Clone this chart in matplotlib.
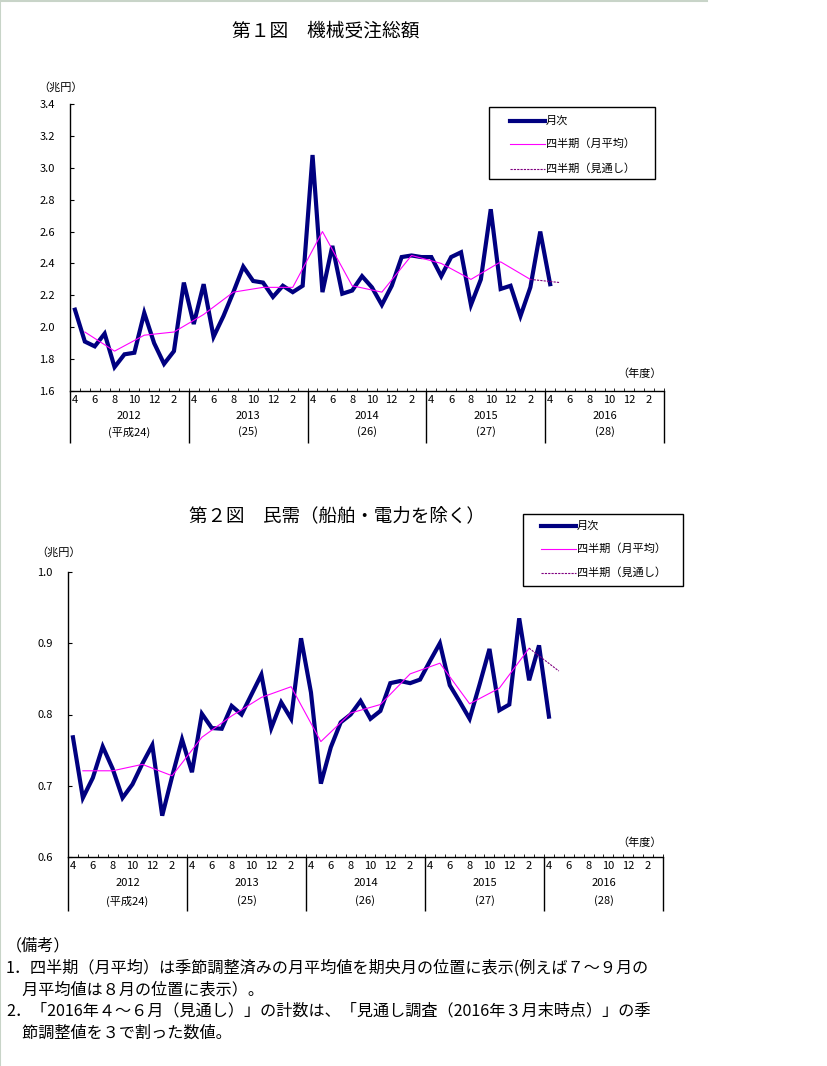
import numpy as np
import matplotlib
matplotlib.use('Agg')
import matplotlib.pyplot as plt
from matplotlib.lines import Line2D
from matplotlib.patches import Rectangle
from matplotlib import transforms

plt.rcParams['font.family'] = ['Noto Sans CJK JP', 'DejaVu Sans']

# ---- data (兆円), monthly from 2012/4 ----
years = ['2012', '2013', '2014', '2015', '2016']
era_labels = ['(平成24)', '(25)', '(26)', '(27)', '(28)']
month_labels = ['4', '6', '8', '10', '12', '2']

total_monthly = [2.11, 1.91, 1.88, 1.96, 1.75, 1.83, 1.84, 2.09, 1.90, 1.77, 1.85, 2.28,
                 2.02, 2.27, 1.94, 2.07, 2.22, 2.38, 2.29, 2.28, 2.19, 2.26, 2.22, 2.26,
                 3.08, 2.22, 2.51, 2.21, 2.23, 2.32, 2.25, 2.14, 2.26, 2.44, 2.45, 2.44,
                 2.44, 2.32, 2.44, 2.47, 2.14, 2.30, 2.74, 2.24, 2.26, 2.07, 2.25, 2.60,
                 2.27]
total_quarterly = [1.97, 1.85, 1.95, 1.97, 2.08, 2.22, 2.25, 2.25,
                   2.60, 2.26, 2.22, 2.45, 2.40, 2.30, 2.41, 2.30]
total_forecast = [2.30, 2.28]

private_monthly = [0.768, 0.683, 0.711, 0.755, 0.724, 0.683, 0.702, 0.731, 0.757, 0.658, 0.713, 0.765,
                   0.719, 0.801, 0.781, 0.780, 0.812, 0.800, 0.828, 0.856, 0.781, 0.817, 0.794, 0.907,
                   0.831, 0.703, 0.754, 0.789, 0.800, 0.819, 0.794, 0.805, 0.844, 0.847, 0.844, 0.849,
                   0.875, 0.900, 0.841, 0.818, 0.794, 0.842, 0.892, 0.806, 0.814, 0.935, 0.848, 0.897,
                   0.797]
private_quarterly = [0.721, 0.721, 0.730, 0.714, 0.768, 0.798, 0.824, 0.839,
                     0.762, 0.802, 0.814, 0.857, 0.872, 0.815, 0.837, 0.893]
private_forecast = [0.893, 0.861]

W, H = 828, 1066
NAVY = '#000080'
PINK = '#ff00ff'
PURPLE = '#800080'
SMALL = 8


def fx(x):
    return x / W


def fy(y):
    return 1 - y / H


def draw_panel(fig, box, monthly, quarterly, forecast, yticks, ylim,
               year_y, era_y, line_end, unit_pos, nendo_pos):
    left, top, right, bottom = box
    ax = fig.add_axes([fx(left), fy(bottom), fx(right) - fx(left), fy(top) - fy(bottom)])

    xm = np.arange(len(monthly)) + 0.5
    xq = np.arange(len(quarterly)) * 3 + 1.5
    xf = np.array([xq[-1], xq[-1] + 3])
    ax.plot(xm, monthly, color=NAVY, lw=3.0, solid_joinstyle='miter', zorder=3)
    ax.plot(xq, quarterly, color=PINK, lw=0.8, zorder=4)
    ax.plot(xf, forecast, color=PURPLE, lw=0.8, ls=(0, (2, 1)), zorder=4)

    ax.set_xlim(0, 60)
    ax.set_ylim(*ylim)
    for s in ['top', 'right']:
        ax.spines[s].set_visible(False)
    ax.spines['left'].set_linewidth(1)
    ax.spines['bottom'].set_linewidth(1)

    ax.set_yticks(yticks)
    ax.set_yticklabels([f'{v:.1f}' for v in yticks])
    ax.tick_params(axis='y', direction='in', length=3, pad=11, labelsize=SMALL)

    major = [12 * k + m + 0.5 for k in range(5) for m in range(0, 12, 2)]
    ax.set_xticks(major)
    ax.set_xticklabels(month_labels * 5)
    ax.set_xticks(np.arange(0, 61), minor=True)
    ax.tick_params(axis='x', which='major', length=0, pad=3, labelsize=SMALL)
    ax.tick_params(axis='x', which='minor', direction='in', length=2.5)

    trans = transforms.blended_transform_factory(ax.transData, fig.transFigure)
    ax.vlines(np.arange(0, 61, 12), fy(bottom), fy(line_end), transform=trans,
              color='black', lw=1, clip_on=False)
    for k in range(5):
        ax.text(12 * k + 6, fy(year_y), years[k], transform=trans,
                ha='center', va='center', fontsize=SMALL)
        ax.text(12 * k + 6, fy(era_y), era_labels[k], transform=trans,
                ha='center', va='center', fontsize=SMALL)

    fig.text(fx(unit_pos[0]), fy(unit_pos[1]), '（兆円）', ha='left', va='center', fontsize=SMALL)
    fig.text(fx(nendo_pos[0]), fy(nendo_pos[1]), '（年度）', ha='right', va='center', fontsize=SMALL)
    return ax


def draw_legend(fig, box, x_line, ys):
    x0, y0, x1, y1 = box
    fig.add_artist(Rectangle((fx(x0), fy(y1)), fx(x1) - fx(x0), fy(y0) - fy(y1),
                             transform=fig.transFigure, fill=False, edgecolor='black', lw=1))
    entries = [('月次', dict(color=NAVY, lw=3.0)),
               ('四半期（月平均）', dict(color=PINK, lw=0.8)),
               ('四半期（見通し）', dict(color=PURPLE, lw=0.8, ls=(0, (2, 1))))]
    for (label, kw), y in zip(entries, ys):
        fig.add_artist(Line2D([fx(x_line[0]), fx(x_line[1])], [fy(y), fy(y)],
                              transform=fig.transFigure, **kw))
        fig.text(fx(x_line[1] + 1), fy(y), label, ha='left', va='center', fontsize=SMALL)


fig = plt.figure(figsize=(W / 100, H / 100), dpi=100)

# page border
fig.add_artist(Line2D([0, fx(707)], [fy(0.5), fy(0.5)], transform=fig.transFigure,
                      color='#c8d4c8', lw=1.5))
fig.add_artist(Line2D([fx(0.5), fx(0.5)], [0, 1], transform=fig.transFigure,
                      color='#c8d4c8', lw=1.5))

fig.text(fx(326), fy(31), '第１図　機械受注総額', ha='center', va='center', fontsize=13.5)
draw_panel(fig, (70, 104, 664, 391), total_monthly, total_quarterly, total_forecast,
           np.arange(1.6, 3.41, 0.2), (1.6, 3.4),
           416, 432, 443, (38, 87), (662, 374))
draw_legend(fig, (489, 107, 655, 179), (510, 545), (121, 144, 169))

fig.text(fx(337), fy(516), '第２図　民需（船舶・電力を除く）', ha='center', va='center', fontsize=13.3)
draw_panel(fig, (68, 572, 663, 857), private_monthly, private_quarterly, private_forecast,
           np.arange(0.6, 1.01, 0.1), (0.6, 1.0),
           883, 901, 911, (36, 552), (662, 843))
draw_legend(fig, (523, 514, 683, 586), (541, 576), (526, 549, 573))

notes = ['（備考）',
         '1．四半期（月平均）は季節調整済みの月平均値を期央月の位置に表示(例えば７～９月の',
         '　月平均値は８月の位置に表示）。',
         '2．「2016年４～６月（見通し）」の計数は、「見通し調査（2016年３月末時点）」の季',
         '　節調整値を３で割った数値。']
for text, y in zip(notes, [946, 968, 990, 1011, 1033]):
    fig.text(fx(6), fy(y), text, ha='left', va='center', fontsize=11.6)

fig.savefig('out.png', dpi=100)
